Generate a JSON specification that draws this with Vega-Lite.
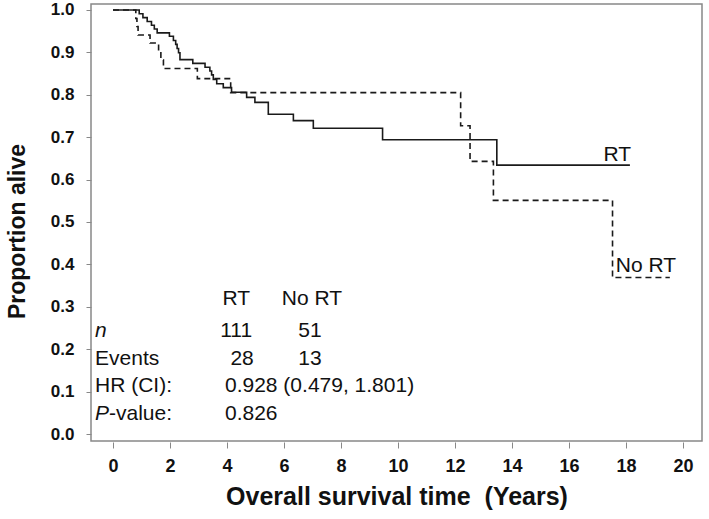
{
  "$schema": "https://vega.github.io/schema/vega-lite/v6.json",
  "autosize": "none",
  "padding": {"left": 91, "top": 4, "right": 7, "bottom": 78},
  "width": 611,
  "height": 437,
  "background": "white",
  "config": {
    "view": {"stroke": "#888", "strokeWidth": 1.5},
    "axis": {
      "domain": false,
      "grid": false,
      "tickColor": "#888",
      "tickSize": 6,
      "labelFont": "Liberation Sans",
      "labelFontWeight": "bold",
      "labelFontSize": 18,
      "labelColor": "#111",
      "titleFont": "Liberation Sans",
      "titleFontWeight": "bold",
      "titleColor": "#111"
    }
  },
  "datasets": {
    "curves": [
      {"group": "RT", "t": 0, "s": 1.0},
      {"group": "RT", "t": 0.92, "s": 0.991},
      {"group": "RT", "t": 1.05, "s": 0.982},
      {"group": "RT", "t": 1.2, "s": 0.973},
      {"group": "RT", "t": 1.35, "s": 0.964},
      {"group": "RT", "t": 1.45, "s": 0.955},
      {"group": "RT", "t": 1.55, "s": 0.946},
      {"group": "RT", "t": 1.98, "s": 0.938},
      {"group": "RT", "t": 2.12, "s": 0.928},
      {"group": "RT", "t": 2.2, "s": 0.919},
      {"group": "RT", "t": 2.25, "s": 0.909},
      {"group": "RT", "t": 2.3, "s": 0.899},
      {"group": "RT", "t": 2.35, "s": 0.883},
      {"group": "RT", "t": 2.8, "s": 0.874},
      {"group": "RT", "t": 3.23, "s": 0.865},
      {"group": "RT", "t": 3.4, "s": 0.856},
      {"group": "RT", "t": 3.46, "s": 0.847},
      {"group": "RT", "t": 3.52, "s": 0.836},
      {"group": "RT", "t": 3.64, "s": 0.826},
      {"group": "RT", "t": 3.87, "s": 0.817},
      {"group": "RT", "t": 4.16, "s": 0.806},
      {"group": "RT", "t": 4.69, "s": 0.794},
      {"group": "RT", "t": 4.98, "s": 0.782},
      {"group": "RT", "t": 5.45, "s": 0.754},
      {"group": "RT", "t": 6.33, "s": 0.739},
      {"group": "RT", "t": 7.03, "s": 0.721},
      {"group": "RT", "t": 9.46, "s": 0.694},
      {"group": "RT", "t": 13.47, "s": 0.634},
      {"group": "RT", "t": 18.14, "s": 0.634},
      {"group": "No RT", "t": 0, "s": 1.0},
      {"group": "No RT", "t": 0.8, "s": 0.98},
      {"group": "No RT", "t": 0.84, "s": 0.961},
      {"group": "No RT", "t": 0.88, "s": 0.941},
      {"group": "No RT", "t": 1.3, "s": 0.922},
      {"group": "No RT", "t": 1.6, "s": 0.902},
      {"group": "No RT", "t": 1.68, "s": 0.882},
      {"group": "No RT", "t": 1.77, "s": 0.862},
      {"group": "No RT", "t": 2.96, "s": 0.838},
      {"group": "No RT", "t": 4.13, "s": 0.805},
      {"group": "No RT", "t": 12.2, "s": 0.727},
      {"group": "No RT", "t": 12.53, "s": 0.643},
      {"group": "No RT", "t": 13.35, "s": 0.551},
      {"group": "No RT", "t": 17.53, "s": 0.369},
      {"group": "No RT", "t": 19.54, "s": 0.369}
    ],
    "centerText": [
      {"label": "RT", "t": 4.33, "s": 0.319},
      {"label": "No RT", "t": 6.98, "s": 0.319},
      {"label": "111", "t": 4.32, "s": 0.242},
      {"label": "51", "t": 6.91, "s": 0.242},
      {"label": "28", "t": 4.53, "s": 0.176},
      {"label": "13", "t": 6.91, "s": 0.176},
      {"label": "RT", "t": 17.7, "s": 0.659},
      {"label": "No RT", "t": 18.7, "s": 0.397}
    ],
    "leftText": [
      {"label": "Events", "t": -0.63, "s": 0.176},
      {"label": "HR (CI):", "t": -0.63, "s": 0.113},
      {"label": "-value:", "t": -0.14, "s": 0.047},
      {"label": "0.928 (0.479, 1.801)", "t": 3.93, "s": 0.113},
      {"label": "0.826", "t": 3.93, "s": 0.047}
    ],
    "italicText": [
      {"label": "n", "t": -0.63, "s": 0.242},
      {"label": "P", "t": -0.63, "s": 0.047}
    ]
  },
  "encoding": {
    "x": {
      "field": "t",
      "type": "quantitative",
      "scale": {"domain": [-0.772, 20.67], "nice": false, "zero": false},
      "axis": {
        "values": [0, 2, 4, 6, 8, 10, 12, 14, 16, 18, 20],
        "title": "Overall survival time\u00a0 (Years)",
        "titleFontSize": 25,
        "labelPadding": 9,
        "titlePadding": 9,
        "offset": 1
      }
    },
    "y": {
      "field": "s",
      "type": "quantitative",
      "scale": {"domain": [-0.0165, 1.0141], "nice": false, "zero": false},
      "axis": {
        "values": [0, 0.1, 0.2, 0.3, 0.4, 0.5, 0.6, 0.7, 0.8, 0.9, 1.0],
        "format": ".1f",
        "title": "Proportion alive",
        "titleFontSize": 23,
        "labelFontSize": 17,
        "tickSize": 5,
        "labelPadding": 12,
        "titlePadding": 21,
        "titleY": 227
      }
    }
  },
  "layer": [
    {
      "data": {"name": "curves"},
      "mark": {"type": "line", "interpolate": "step-after", "strokeWidth": 1.6, "color": "#1a1a1a"},
      "encoding": {
        "strokeDash": {
          "field": "group",
          "type": "nominal",
          "scale": {"domain": ["RT", "No RT"], "range": [[1, 0], [6, 4]]},
          "legend": null
        }
      }
    },
    {
      "data": {"name": "centerText"},
      "mark": {"type": "text", "font": "Liberation Sans", "fontSize": 21, "align": "center", "baseline": "middle", "color": "#111"},
      "encoding": {"text": {"field": "label"}}
    },
    {
      "data": {"name": "leftText"},
      "mark": {"type": "text", "font": "Liberation Sans", "fontSize": 21, "align": "left", "baseline": "middle", "color": "#111"},
      "encoding": {"text": {"field": "label"}}
    },
    {
      "data": {"name": "italicText"},
      "mark": {"type": "text", "font": "Liberation Sans", "fontSize": 21, "fontStyle": "italic", "align": "left", "baseline": "middle", "color": "#111"},
      "encoding": {"text": {"field": "label"}}
    }
  ]
}
